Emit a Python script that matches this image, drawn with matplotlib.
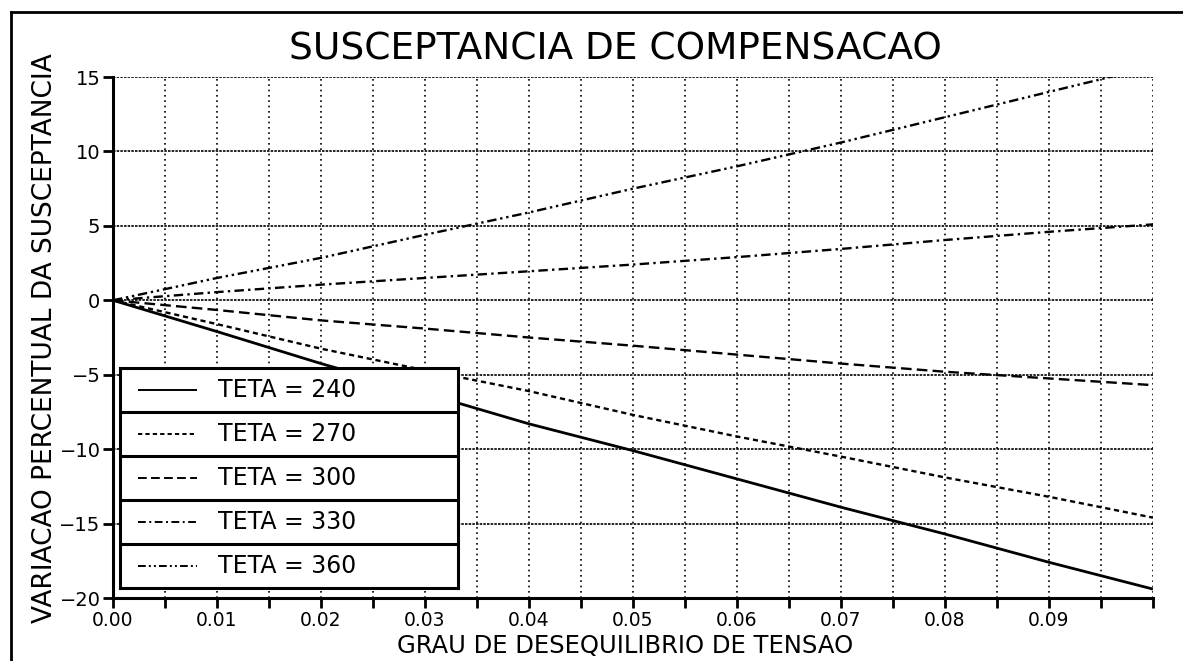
import matplotlib.pyplot as plt
import numpy as np
from matplotlib.lines import Line2D
from matplotlib.ticker import FixedLocator, FixedFormatter, MultipleLocator

plt.rcParams['font.family'] = ['DejaVu Sans']

# grau de desequilibrio de tensao (pu)
grau = [0.00, 0.01, 0.02, 0.03, 0.04, 0.05, 0.06, 0.07, 0.08, 0.09, 0.10]

# variacao percentual da susceptancia para cada angulo teta
teta_240 = [0, -2.1, -4.25, -6.25, -8.3, -10.1, -12.0, -13.9, -15.7, -17.6, -19.4]
teta_270 = [0, -1.6, -3.25, -4.7, -6.1, -7.7, -9.15, -10.5, -11.9, -13.2, -14.6]
teta_300 = [0, -0.65, -1.35, -1.9, -2.5, -3.05, -3.65, -4.25, -4.8, -5.25, -5.7]
teta_330 = [0, 0.55, 1.05, 1.5, 1.95, 2.4, 2.9, 3.45, 4.05, 4.6, 5.1]
teta_360 = [0, 1.5, 2.85, 4.4, 5.9, 7.5, 9.0, 10.6, 12.3, 14.0, 15.7]

legend_labels = ["TETA = 240", "TETA = 270", "TETA = 300", "TETA = 330", "TETA = 360"]
x_ticks = [0.00, 0.01, 0.02, 0.03, 0.04, 0.05, 0.06, 0.07, 0.08, 0.09]
x_tick_labels = ["0.00", "0.01", "0.02", "0.03", "0.04",
                 "0.05", "0.06", "0.07", "0.08", "0.09"]
y_ticks = [15, 10, 5, 0, -5, -10, -15, -20]
y_tick_labels = ["15", "10", "5", "0", "\u22125", "\u221210", "\u221215", "\u221220"]

curvas = [teta_240, teta_270, teta_300, teta_330, teta_360]
estilos = [
    (0, ()),
    (0, (2.2, 1.6)),
    (0, (4.5, 2.2)),
    (0, (4, 1.8, 1, 1.8)),
    (0, (4, 1.6, 1, 1.6, 1, 1.6)),
]
larguras = [2.0, 1.7, 1.7, 1.7, 1.7]

fig = plt.figure(figsize=(11.83, 6.61), dpi=100)
ax = fig.add_axes([0.0955, 0.0953, 0.8791, 0.7882])

for y, ls, lw in zip(curvas, estilos, larguras):
    ax.plot(grau, y, color="black", linestyle=ls, linewidth=lw, zorder=3)

ax.set_xlim(0, 0.1)
ax.set_ylim(-20, 15)

ax.xaxis.set_major_locator(FixedLocator(x_ticks))
ax.xaxis.set_major_formatter(FixedFormatter(x_tick_labels))
ax.xaxis.set_minor_locator(MultipleLocator(0.005))
ax.yaxis.set_major_locator(FixedLocator(y_ticks))
ax.yaxis.set_major_formatter(FixedFormatter(y_tick_labels))

ax.grid(True, which="both", axis="x", color="black", linestyle=(0, (1, 2.2)), linewidth=1.2)
ax.grid(True, which="major", axis="y", color="black", linestyle=(0, (1.5, 0.7)), linewidth=1.2)

for side in ("top", "right"):
    ax.spines[side].set_visible(False)
for side in ("left", "bottom"):
    ax.spines[side].set_linewidth(2.2)

ax.tick_params(axis="x", which="both", direction="out", length=7, width=2,
               pad=2, labelsize=13.5)
ax.tick_params(axis="y", which="major", direction="out", length=7, width=2,
               pad=2, labelsize=14)

ax.set_title("SUSCEPTANCIA DE COMPENSACAO", fontsize=27, x=0.483, y=1.036,
             va="center")
ax.set_xlabel("GRAU DE DESEQUILIBRIO DE TENSAO", fontsize=17.5)
ax.xaxis.set_label_coords(0.492, -0.093)
ax.xaxis.label.set_va("center")
ax.set_ylabel("VARIACAO PERCENTUAL DA SUSCEPTANCIA", fontsize=19)
ax.yaxis.set_label_coords(-0.0654, 0.499)
ax.yaxis.label.set_va("center")

# caixa de legenda em linhas separadas
lax = ax.inset_axes([0.0067, 0.019, 0.325, 0.4223])
lax.set_zorder(5)
lax.set_facecolor("white")
lax.set_xlim(0, 1)
lax.set_ylim(0, len(legend_labels))
lax.set_xticks([])
lax.set_yticks([])
for sp in lax.spines.values():
    sp.set_linewidth(2.2)
n = len(legend_labels)
for i, (lab, ls) in enumerate(zip(legend_labels, estilos)):
    yc = n - 0.5 - i
    lax.plot([0.053, 0.228], [yc, yc], color="black", linestyle=ls, linewidth=1.4)
    lax.text(0.29, yc, lab, fontsize=17, va="center", ha="left")
    if i > 0:
        lax.axhline(n - i, color="black", linewidth=2.2)

# moldura da folha
fx = 11 / 1183
fy = 1 - 12 / 661
fig.add_artist(Line2D([fx, fx], [0, fy], transform=fig.transFigure,
                      color="black", linewidth=2))
fig.add_artist(Line2D([fx, 1], [fy, fy], transform=fig.transFigure,
                      color="black", linewidth=2))

fig.savefig("out.png", dpi=100)
